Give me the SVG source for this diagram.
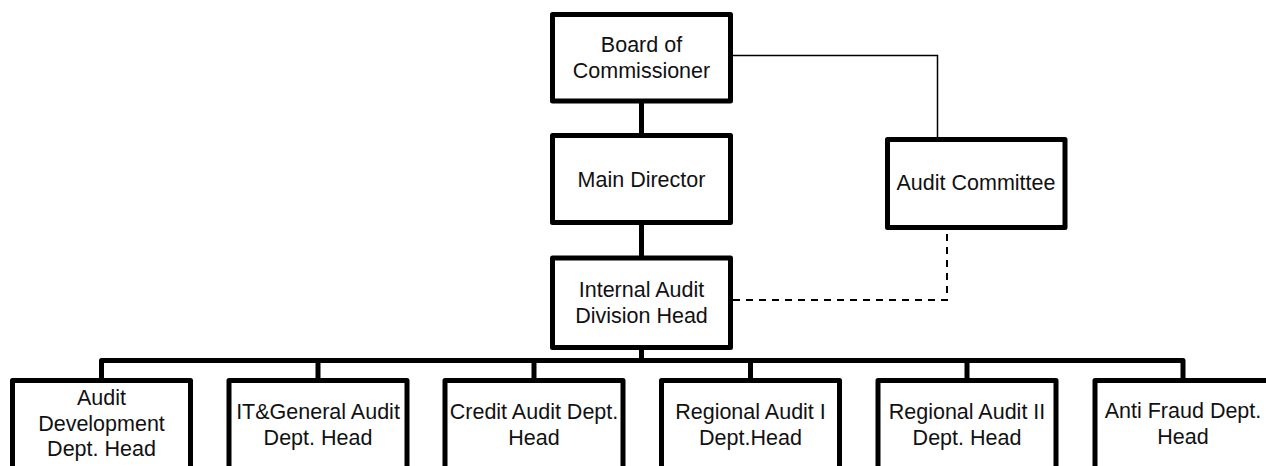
<svg xmlns="http://www.w3.org/2000/svg" width="1266" height="466" viewBox="0 0 1266 466">
<style>
.box{fill:#fff;stroke:#000;stroke-width:5;stroke-linejoin:round}
.t{font-family:"Liberation Sans",Arial,sans-serif;font-size:21.5px;fill:#111;text-anchor:middle}
.thick{fill:none;stroke:#000;stroke-width:5;stroke-linejoin:round}
.thin{fill:none;stroke:#000;stroke-width:1.5}
.dash{fill:none;stroke:#000;stroke-width:2;stroke-dasharray:7 6}
</style>
<rect width="1266" height="466" fill="#fff"/>
<g id="connectors">
<path class="thick" d="M641.5 101V135.5M641.5 222.5V258M641.5 347.5V360.5"/>
<path class="thick" d="M101.5 380.5V360.5H1183V380.5M318 360.5V380.5M534 360.5V380.5M750.5 360.5V380.5M967 360.5V380.5"/>
<path class="thin" d="M733 55.5H937.5V139.5"/>
<path class="dash" d="M733 300H947V229"/>
</g>
<g id="board">
<rect class="box" x="552.5" y="14.5" width="178" height="86.5"/>
<text class="t" x="641.5" y="52">Board of</text>
<text class="t" x="641.5" y="78">Commissioner</text>
</g>
<g id="main-director">
<rect class="box" x="552.5" y="135.5" width="178" height="87"/>
<text class="t" x="641.5" y="187">Main Director</text>
</g>
<g id="audit-committee">
<rect class="box" x="887.5" y="139.5" width="177.5" height="88"/>
<text class="t" x="976" y="190">Audit Committee</text>
</g>
<g id="internal-audit">
<rect class="box" x="552.5" y="258" width="178" height="89.5"/>
<text class="t" x="641.5" y="297">Internal Audit</text>
<text class="t" x="641.5" y="323">Division Head</text>
</g>
<g id="audit-development">
<rect class="box" x="12.5" y="380.5" width="178" height="110"/>
<text class="t" x="101.5" y="405">Audit</text>
<text class="t" x="101.5" y="431">Development</text>
<text class="t" x="101.5" y="456">Dept. Head</text>
</g>
<g id="it-general">
<rect class="box" x="229" y="380.5" width="178" height="110"/>
<text class="t" x="318" y="419">IT&amp;General Audit</text>
<text class="t" x="318" y="445">Dept. Head</text>
</g>
<g id="credit-audit">
<rect class="box" x="445" y="380.5" width="178" height="110"/>
<text class="t" x="534" y="419">Credit Audit Dept.</text>
<text class="t" x="534" y="445">Head</text>
</g>
<g id="regional-1">
<rect class="box" x="661.5" y="380.5" width="178" height="110"/>
<text class="t" x="750.5" y="419">Regional Audit I</text>
<text class="t" x="750.5" y="445">Dept.Head</text>
</g>
<g id="regional-2">
<rect class="box" x="878" y="380.5" width="178" height="110"/>
<text class="t" x="967" y="419">Regional Audit II</text>
<text class="t" x="967" y="445">Dept. Head</text>
</g>
<g id="anti-fraud">
<rect class="box" x="1095" y="380.5" width="178" height="110"/>
<text class="t" x="1183" y="418">Anti Fraud Dept.</text>
<text class="t" x="1183" y="444">Head</text>
</g>
</svg>
